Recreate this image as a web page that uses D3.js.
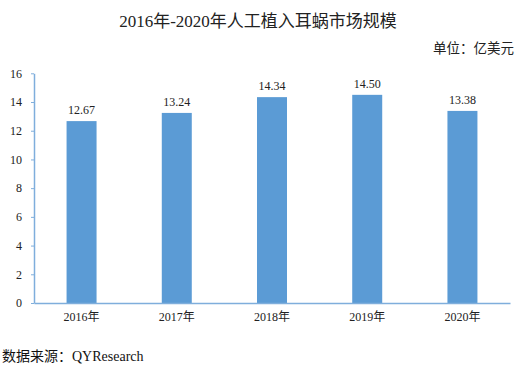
<!DOCTYPE html>
<html><head><meta charset="utf-8">
<script src="https://cdn.jsdelivr.net/npm/d3@7"></script>
<style>body{margin:0;background:#fff}svg{display:block}</style>
</head><body>
<svg id="c" width="518" height="365"></svg>
<script>
const categories = ["2016年","2017年","2018年","2019年","2020年"];
const values = [12.67, 13.24, 14.34, 14.50, 13.38];
const yTicks = [0,2,4,6,8,10,12,14,16];
const title = "2016年-2020年人工植入耳蜗市场规模";
const unit = "单位：亿美元";
const source = "数据来源：QYResearch";

const svg = d3.select("#c");
const serif = "'Liberation Serif','Times New Roman','Noto Sans CJK SC',serif";
const margin = {left:34, right:8, top:73.3, bottom:62};
const W = 518, H = 365;
const x = d3.scaleBand().domain(categories).range([margin.left, W - margin.right]).paddingInner(0.685).paddingOuter(0.342);
const y = d3.scaleLinear().domain([0,16]).range([H - margin.bottom, margin.top]);

svg.append("text").attr("x",258).attr("y",27).attr("text-anchor","middle")
  .attr("font-family",serif).attr("font-size",17).attr("fill","#222").text(title);
svg.append("text").attr("x",514).attr("y",53).attr("text-anchor","end")
  .attr("font-family","'Noto Sans CJK SC',sans-serif").attr("font-size",13.5).attr("fill","#222").text(unit);

svg.selectAll("rect.bar").data(values).join("rect").attr("class","bar")
  .attr("x",(d,i)=>x(categories[i])).attr("width",x.bandwidth())
  .attr("y",d=>y(d)).attr("height",d=>y(0)-y(d)).attr("fill","#5B9BD5");

svg.selectAll("text.val").data(values).join("text").attr("class","val")
  .attr("x",(d,i)=>x(categories[i])+x.bandwidth()/2).attr("y",d=>y(d)-7)
  .attr("text-anchor","middle").attr("font-family",serif).attr("font-size",12).attr("fill","#222")
  .text(d=>d.toFixed(2));

const ya = svg.append("g").attr("transform",`translate(${margin.left},0)`)
  .call(d3.axisLeft(y).tickValues(yTicks).tickSize(3).tickSizeOuter(0).tickPadding(9));
ya.select(".domain").attr("stroke","#7FAEDC").attr("stroke-width",1.5);
ya.selectAll(".tick line").attr("stroke","#7FAEDC");
ya.selectAll("text").attr("font-family",serif).attr("font-size",12).attr("fill","#222");

const xa = svg.append("g").attr("transform",`translate(0,${y(0)})`)
  .call(d3.axisBottom(x).tickSize(0).tickSizeOuter(0).tickPadding(9));
xa.select(".domain").attr("stroke","#7FAEDC").attr("stroke-width",1.5);
xa.selectAll("text").attr("font-family",serif).attr("font-size",12).attr("fill","#222");

svg.append("text").attr("x",2).attr("y",361)
  .attr("font-family",serif).attr("font-size",14).attr("fill","#111").text(source);
</script>
</body></html>
